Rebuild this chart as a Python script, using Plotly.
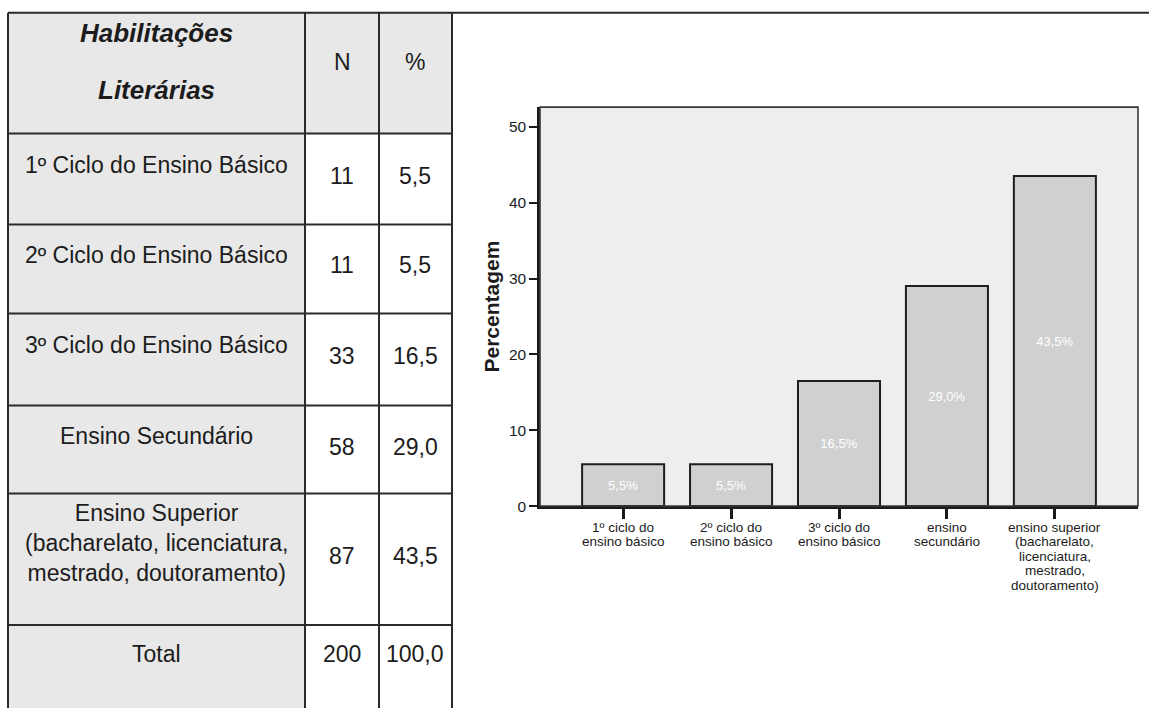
import plotly.graph_objects as go

W, H = 1149, 715

# ---- chart data ----
categorias = [
    "1º ciclo do<br>ensino básico",
    "2º ciclo do<br>ensino básico",
    "3º ciclo do<br>ensino básico",
    "ensino<br>secundário",
    "ensino superior<br>(bacharelato,<br>licenciatura,<br>mestrado,<br>doutoramento)",
]
percentagens = [5.5, 5.5, 16.5, 29.0, 43.5]
rotulos_barras = [f"{v:.1f}%".replace(".", ",") for v in percentagens]
y_ticks = [0, 10, 20, 30, 40, 50]

# ---- table data ----
cabecalho = ["Habilitações", "Literárias"]
colunas = ["N", "%"]
habilitacoes = [
    "1º Ciclo do Ensino Básico",
    "2º Ciclo do Ensino Básico",
    "3º Ciclo do Ensino Básico",
    "Ensino Secundário",
    "Ensino Superior<br>(bacharelato, licenciatura,<br>mestrado, doutoramento)",
]
n_inquiridos = [11, 11, 33, 58, 87]
pct_tabela = [5.5, 5.5, 16.5, 29.0, 43.5]
total_rotulo = "Total"
total_n = 200
total_pct = 100.0

FONT = "Liberation Sans, Arial, Helvetica, sans-serif"
INK = "#1c1c1c"
CELL_GREY = "#e8e8e8"


def px(x):
    return x / W


def py(y):
    return 1 - y / H


# table geometry (pixels)
col_x = [8, 305, 379, 452]
row_y = [13, 135, 227, 317, 410, 499, 632, 716]
label_y = [167, 258, 349, 441, 549, 661]
num_y = [178, 268, 360, 452, 562, 661]

shapes = []
annotations = []


def rect(x0, y0, x1, y1, fill):
    shapes.append(dict(type="rect", xref="paper", yref="paper",
                       x0=px(x0), x1=px(x1), y0=py(y1), y1=py(y0),
                       fillcolor=fill, line=dict(width=0), layer="below"))


def line(x0, y0, x1, y1, w=2, c="#2a2a2a"):
    shapes.append(dict(type="line", xref="paper", yref="paper",
                       x0=px(x0), x1=px(x1), y0=py(y0), y1=py(y1),
                       line=dict(color=c, width=w)))


def text(x, y, s, size=23, bold=False, italic=False, xref="paper"):
    if bold:
        s = f"<b>{s}</b>"
    if italic:
        s = f"<i>{s}</i>"
    annotations.append(dict(xref=xref, yref="paper",
                            x=x if xref != "paper" else px(x), y=py(y),
                            text=s, showarrow=False, xanchor="center",
                            yanchor="middle", align="center",
                            font=dict(family=FONT, size=size, color=INK)))


# cell fills: label column and header are shaded, number cells white
rect(col_x[0], row_y[0], col_x[1], row_y[-1], CELL_GREY)
rect(col_x[1], row_y[0], col_x[3], row_y[1], CELL_GREY)

# grid lines
line(col_x[0], row_y[0], W, row_y[0])
for x in col_x:
    line(x, row_y[0], x, row_y[-1])
for y in row_y[1:-1]:
    line(col_x[0], y, col_x[3], y)

# header
cx_lab = (col_x[0] + col_x[1]) / 2
cx_n = (col_x[1] + col_x[2]) / 2
cx_p = (col_x[2] + col_x[3]) / 2
text(cx_lab, 33, cabecalho[0], size=26, bold=True, italic=True)
text(cx_lab, 91, cabecalho[1], size=26, bold=True, italic=True)
text(cx_n, 63, colunas[0], size=23)
text(cx_p, 63, colunas[1], size=23)

# body rows
rows_lab = habilitacoes + [total_rotulo]
rows_n = n_inquiridos + [total_n]
rows_p = pct_tabela + [total_pct]
for i in range(len(rows_lab)):
    text(cx_lab, label_y[i], rows_lab[i])
    text(cx_n, num_y[i], str(rows_n[i]))
    text(cx_p, num_y[i], f"{rows_p[i]:.1f}".replace(".", ","))

# ---- bar chart ----
plot_l, plot_r, plot_t, plot_b = 540, 1138, 108.3, 511.8

# category labels under the axis, one line at a time for tight leading
for cat in categorias:
    for j, part in enumerate(cat.split("<br>")):
        text(cat, 533 + 14.7 * j, part, size=13.5, xref="x")

# plot frame
shapes.append(dict(type="rect", xref="paper", yref="paper",
                   x0=px(plot_l), x1=px(plot_r), y0=py(plot_b), y1=py(plot_t),
                   line=dict(color="#3a3a3a", width=1.6), layer="above"))

fig = go.Figure(go.Bar(
    x=categorias,
    y=percentagens,
    width=0.76,
    marker=dict(color="#d0d0d0", line=dict(color="#1e1e1e", width=2)),
    text=rotulos_barras,
    textposition="inside",
    insidetextanchor="middle",
    textangle=0,
    textfont=dict(family=FONT, size=13, color="white"),
    hoverinfo="skip",
))

fig.update_layout(
    width=W, height=H,
    margin=dict(l=0, r=0, t=0, b=0),
    paper_bgcolor="white",
    plot_bgcolor="#eeeeee",
    showlegend=False,
    shapes=shapes,
    annotations=annotations,
    xaxis=dict(
        domain=[px(plot_l), px(plot_r)],
        type="category",
        range=[-0.77, 4.77],
        showline=True, linecolor="#1a1a1a", linewidth=2.5,
        ticks="outside", ticklen=10, tickwidth=2.5, tickcolor="#1a1a1a",
        showticklabels=False,
        showgrid=False, zeroline=False, fixedrange=True,
    ),
    yaxis=dict(
        domain=[py(plot_b), py(plot_t)],
        range=[0, 52.6],
        tickvals=y_ticks,
        showline=True, linecolor="#1a1a1a", linewidth=2.5,
        ticks="outside", ticklen=8, tickwidth=1.5, tickcolor="#1a1a1a",
        tickfont=dict(family=FONT, size=15.5, color=INK),
        showgrid=False, zeroline=False, fixedrange=True,
        title=dict(text="<b>Percentagem</b>", standoff=4,
                   font=dict(family=FONT, size=21, color=INK)),
    ),
)

fig.write_html("out.html")
